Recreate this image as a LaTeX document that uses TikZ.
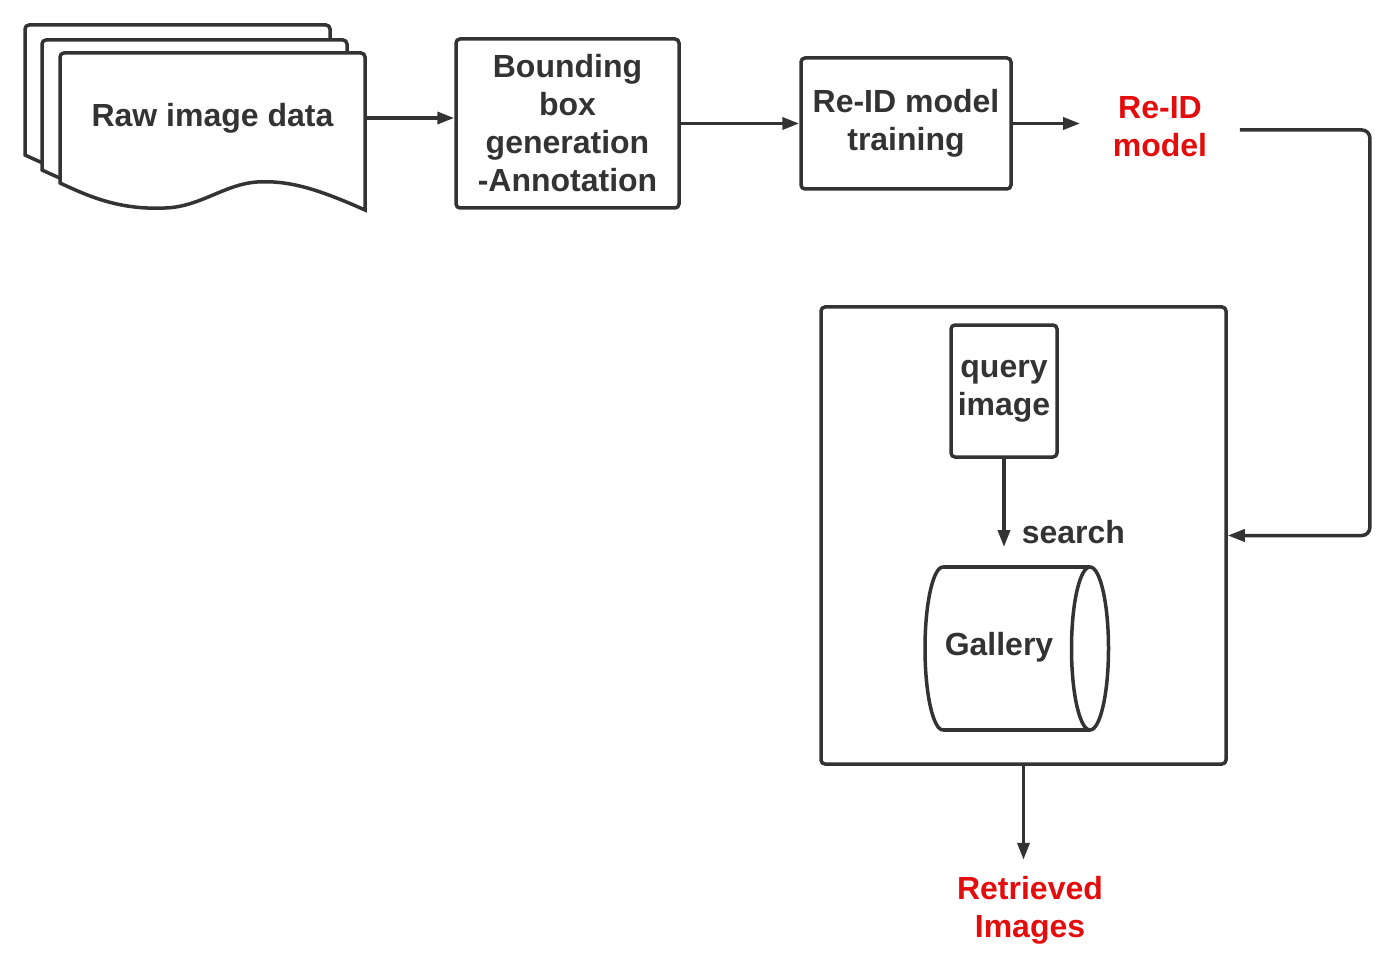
\documentclass[tikz,border=0pt]{standalone}
\usepackage{fontspec}
\setmainfont{Liberation Sans}
\usetikzlibrary{arrows.meta}
\definecolor{dark}{HTML}{333333}
\definecolor{redtxt}{HTML}{E30D0D}

\begin{document}
\begin{tikzpicture}[x=1pt,y=-1pt,line width=3.5pt,color=dark,
    >={Triangle[length=17pt,width=12pt]},
    every node/.style={font=\fontsize{32}{38}\selectfont\bfseries,text=dark,align=center},
    box/.style={draw=dark,rounded corners=4pt,inner sep=0pt},
    redlabel/.style={text=redtxt,inner sep=0pt}]
    \useasboundingbox (0,0) rectangle (1400,976);
    % stack of sheets
    \foreach \dx/\dy in {-35/-28,-18/-13,0/0}
        \draw[fill=white,shift={(\dx,\dy)}] (60,183) [rounded corners=4pt] -- (60,53) -- (365,53) [sharp corners] -- (365,210)
            .. controls (320,190) and (290,180) .. (257,182)
            .. controls (225,184) and (200,207) .. (165,208)
            .. controls (120,210) and (90,197) .. (60,183) -- cycle;
    \node[minimum width=305pt,minimum height=130pt,inner sep=0pt] at (212.5,118) (raw) {Raw image data};
    \node[box,minimum width=223pt,minimum height=169pt] at (567.5,123.5) (bb) {Bounding\\box\\generation\\-Annotation};
    \node[box,minimum width=210pt,minimum height=131pt] at (906,123.5) (tr) {Re-ID model\\training};
    \node[redlabel,inner xsep=31pt] at (1160,127) (rid) {Re-ID\\model};
    \node[box,minimum width=405pt,minimum height=457pt] at (1023.5,535.5) (outer) {};
    \node[box,minimum width=106pt,minimum height=132pt] at (1004,391) (q) {query\\image};
    % gallery cylinder
    \draw (943,567) -- (1090,567) (943,730) -- (1090,730);
    \draw (943,567) arc[start angle=90,end angle=270,x radius=18pt,y radius=81.5pt];
    \draw (1090,648.5) ellipse[x radius=18.5pt,y radius=81.5pt];
    \node[inner sep=0pt] at (999,647) (gal) {Gallery};
    \coordinate (galtop) at (1004,547);
    \node[redlabel] at (1030,910) (ret) {Retrieved\\Images};
    \draw[->] (raw.east) -- (bb.west |- raw.east);
    \draw[->] (bb.east) -- (tr.west);
    \draw[->] (tr.east) -- (tr.east -| rid.west);
    \draw[->,rounded corners=8pt] (rid.east) ++(0,3) -- ++(130,0) |- (outer.east);
    \draw[->] (q.south) -- (galtop) node[pos=0.83,anchor=west,inner sep=0pt,xshift=16pt] (search) {search};
    \draw[->] (outer.south) -- ++(0,94);
\end{tikzpicture}
\end{document}
